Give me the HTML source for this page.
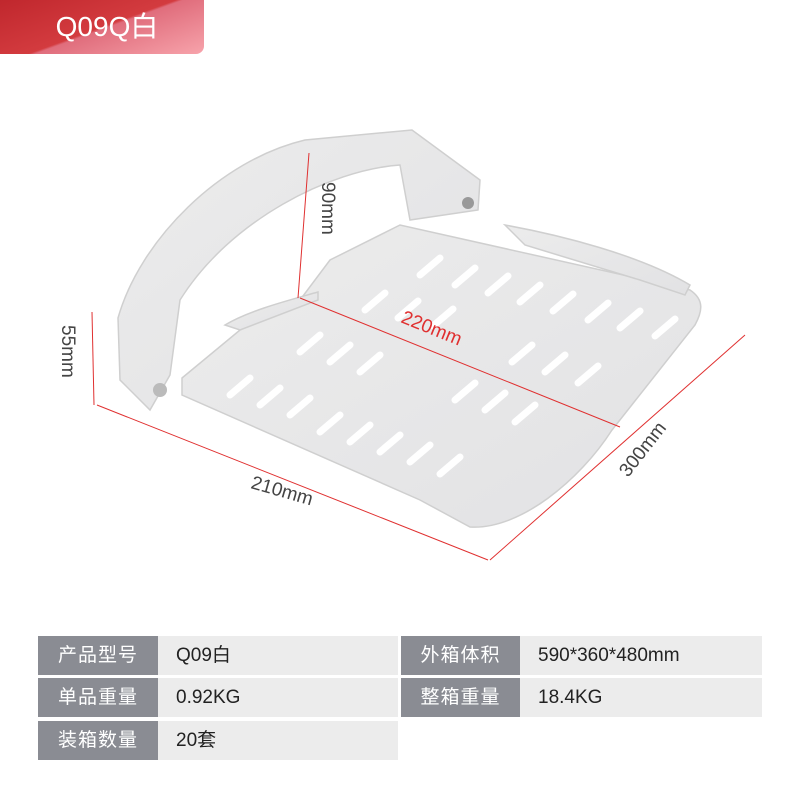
<!DOCTYPE html>
<html><head><meta charset="utf-8"><style>
body{margin:0;width:800px;height:800px;background:#fff;position:relative;overflow:hidden;font-family:"Liberation Sans","Noto Sans CJK SC",sans-serif}
.hdr{position:absolute;left:0;top:0;width:204px;height:54px;border-radius:0 0 8px 0;background:linear-gradient(160deg,#c0272d 0%,#d33b3f 50%,#e06d7c 52%,#f7a3ab 100%);color:#fff;font-size:28px;line-height:54px;text-align:center;padding-left:10px;box-sizing:border-box}
.c{position:absolute;height:39px;line-height:39px;font-size:19px;box-sizing:border-box}
.l{background:#8a8c93;color:#fff;text-align:center;letter-spacing:1px}
.v{background:#ececec;color:#222;padding-left:18px}
</style></head><body>
<div class="hdr">Q09Q白</div>
<svg width="800" height="800" style="position:absolute;left:0;top:0">
<defs><linearGradient id="g" x1="0" y1="0" x2="1" y2="1"><stop offset="0" stop-color="#ececec"/><stop offset="1" stop-color="#e2e2e4"/></linearGradient></defs>
<g fill="url(#g)" stroke="#cfcfcf" stroke-width="1.5">
<path d="M118,318 C140,240 220,160 305,140 L412,130 L480,180 L478,210 L410,220 L400,165 C330,170 230,220 180,300 L170,375 L150,410 L120,380 Z"/>
<path d="M182,378 L240,330 C260,320 290,310 300,300 L330,260 L400,225 L690,290 C705,300 702,312 695,325 L612,430 C580,480 520,530 470,527 L420,500 L182,395 Z"/>
<path d="M505,225 C560,235 640,255 690,285 L685,295 L640,280 L525,245 Z"/>
<path d="M225,325 C250,310 290,300 318,292 L318,300 L240,330 Z"/>
</g>
<circle cx="160" cy="390" r="7" fill="#bbb"/><circle cx="468" cy="203" r="6" fill="#999"/>
<g stroke="#fff" stroke-width="7" stroke-linecap="round">
<path d="M420,275 l20,-17 M455,285 l20,-17 M488,293 l20,-17 M520,302 l20,-17 M553,311 l20,-17 M588,320 l20,-17 M620,328 l20,-17 M655,336 l20,-17"/>
<path d="M365,310 l20,-17 M398,318 l20,-17 M433,326 l20,-17"/>
<path d="M512,362 l20,-17 M545,372 l20,-17 M578,383 l20,-17"/>
<path d="M300,352 l20,-17 M330,362 l20,-17 M360,372 l20,-17"/>
<path d="M230,395 l20,-17 M260,405 l20,-17 M290,415 l20,-17"/>
<path d="M455,400 l20,-17 M485,410 l20,-17 M515,422 l20,-17"/>
<path d="M320,432 l20,-17 M350,442 l20,-17 M380,452 l20,-17 M410,462 l20,-17 M440,474 l20,-17"/>
</g>
<g stroke="#e03030" stroke-width="1" fill="none">
<line x1="92" y1="312" x2="94" y2="405"/>
<line x1="97" y1="405" x2="488" y2="560"/>
<line x1="490" y1="560" x2="745" y2="335"/>
<line x1="300" y1="298" x2="620" y2="427"/>
<line x1="309" y1="153" x2="298" y2="298"/>
</g>
<g font-size="19" fill="#444" font-family="Liberation Sans,sans-serif">
<text transform="translate(62,325) rotate(90)">55mm</text>
<text transform="translate(322,182) rotate(90)">90mm</text>
<text transform="translate(400,322) rotate(22)" fill="#e03030">220mm</text>
<text transform="translate(250,488) rotate(16)">210mm</text>
<text transform="translate(628,478) rotate(-52)">300mm</text>
</g>
</svg>
<div class="c l" style="left:38px;top:636px;width:120px">产品型号</div>
<div class="c v" style="left:158px;top:636px;width:240px">Q09白</div>
<div class="c l" style="left:401px;top:636px;width:119px">外箱体积</div>
<div class="c v" style="left:520px;top:636px;width:242px">590*360*480mm</div>
<div class="c l" style="left:38px;top:678px;width:120px">单品重量</div>
<div class="c v" style="left:158px;top:678px;width:240px">0.92KG</div>
<div class="c l" style="left:401px;top:678px;width:119px">整箱重量</div>
<div class="c v" style="left:520px;top:678px;width:242px">18.4KG</div>
<div class="c l" style="left:38px;top:721px;width:120px">装箱数量</div>
<div class="c v" style="left:158px;top:721px;width:240px">20套</div>
</body></html>
